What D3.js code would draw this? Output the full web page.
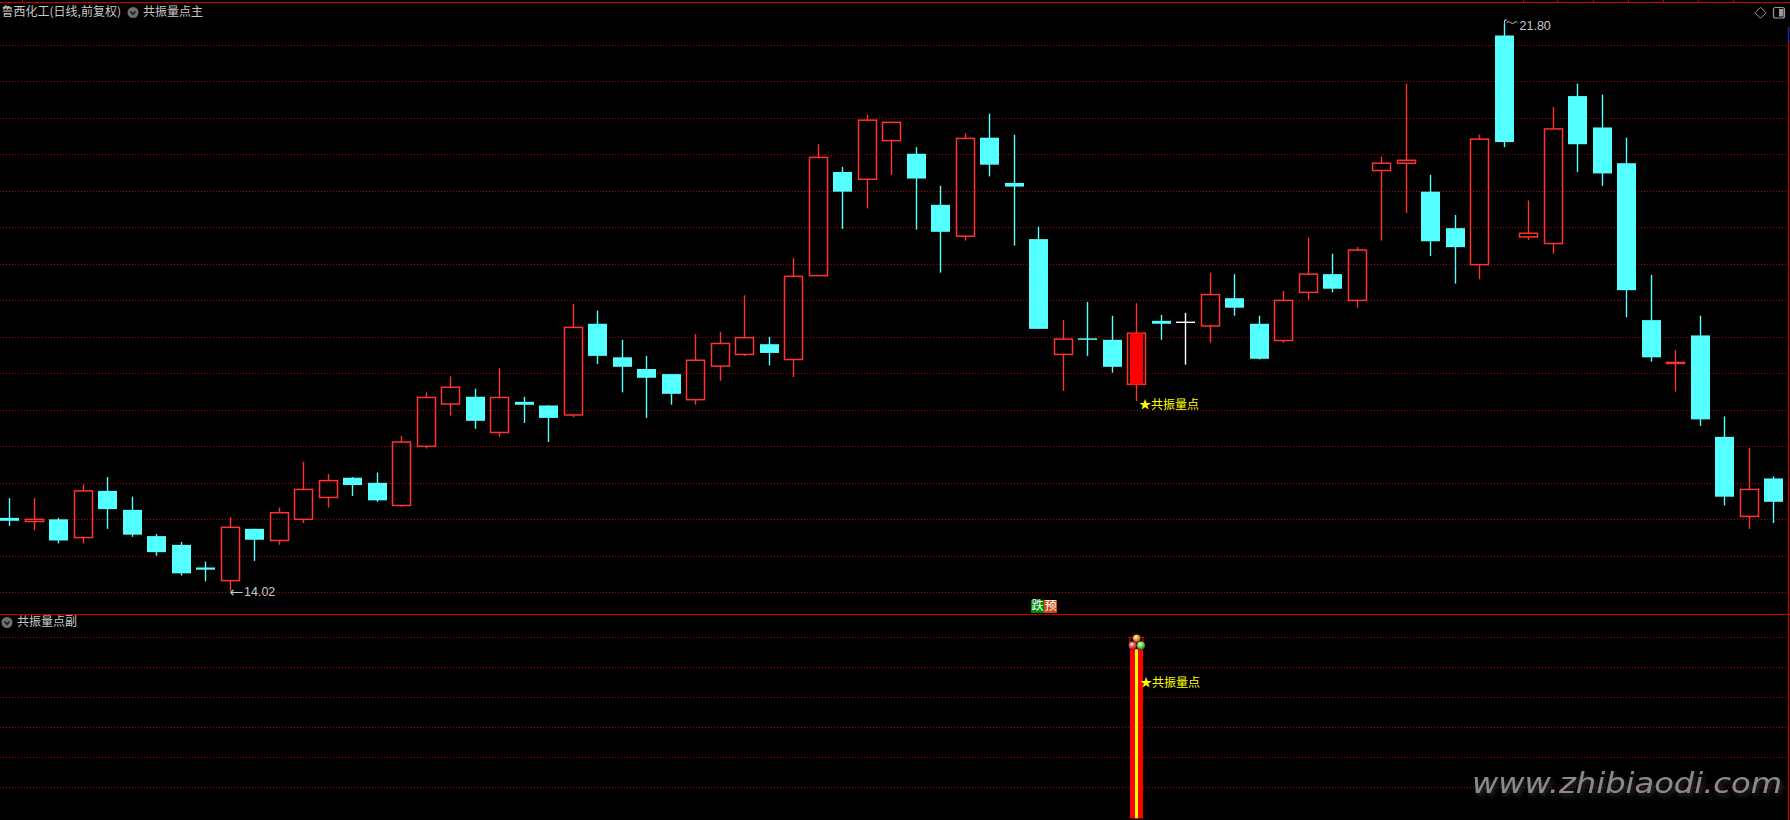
<!DOCTYPE html>
<html><head><meta charset="utf-8">
<script src="https://cdn.jsdelivr.net/npm/d3@7"></script>
<style>html,body{margin:0;padding:0;background:#000;overflow:hidden}</style>
</head><body>
<svg id="c" width="1790" height="820"></svg>
<script>
// ---- data ----
const opens  = [15.02,14.97,15.00,14.75,15.39,15.13,14.77,14.65,14.34,14.16,14.87,14.71,15.00,15.30,15.57,15.50,15.19,16.00,16.58,16.68,16.19,16.61,16.56,16.43,17.68,17.22,17.06,16.99,16.64,17.10,17.26,17.40,17.19,18.34,19.76,19.66,20.19,20.01,19.31,18.88,20.23,19.61,18.84,17.26,17.48,17.46,16.85,17.72,17.70,17.65,18.03,17.68,17.45,18.11,18.36,18.00,19.78,19.88,19.49,18.99,18.49,21.63,18.87,18.78,20.80,20.37,19.88,17.73,17.14,17.52,16.13,15.04,15.56];
const highs  = [15.29,15.29,15.02,15.48,15.58,15.31,14.80,14.69,14.42,15.03,14.87,15.16,15.79,15.62,15.58,15.64,16.14,16.74,16.96,16.79,17.07,16.68,16.56,17.95,17.86,17.46,17.24,16.99,17.54,17.57,18.07,17.50,18.58,20.14,19.83,20.54,20.44,20.10,19.57,20.29,20.56,20.27,19.01,17.73,17.98,17.79,17.96,17.80,17.83,18.38,18.36,17.79,18.13,18.86,18.64,18.73,19.97,20.97,19.72,19.17,20.27,21.80,19.37,20.65,20.97,20.82,20.23,18.35,17.32,17.79,16.41,15.98,15.59];
const lows   = [14.91,14.85,14.67,14.67,14.87,14.76,14.50,14.23,14.15,14.02,14.43,14.65,14.95,15.16,15.32,15.24,15.17,15.97,16.42,16.24,16.13,16.32,16.06,16.40,17.13,16.74,16.39,16.57,16.57,16.90,17.24,17.11,16.95,18.34,18.98,19.26,19.72,18.97,18.38,18.82,19.70,18.75,17.61,16.76,17.24,17.01,16.62,17.46,17.12,17.42,17.79,17.19,17.42,18.01,18.11,17.90,18.82,19.20,18.61,18.23,18.29,20.10,18.83,18.64,19.76,19.57,17.77,17.16,16.75,16.28,15.19,14.87,14.95];
const closes = [14.98,15.00,14.71,15.39,15.14,14.79,14.55,14.26,14.31,14.89,14.72,15.09,15.41,15.53,15.47,15.26,16.06,16.67,16.81,16.35,16.67,16.57,16.39,17.63,17.24,17.09,16.94,16.72,17.18,17.41,17.49,17.28,18.33,19.96,19.49,20.47,20.44,19.67,18.94,20.22,19.86,19.56,17.61,17.47,17.47,17.09,17.55,17.68,17.70,18.08,17.90,17.20,18.00,18.36,18.16,18.69,19.88,19.92,18.81,18.73,20.21,20.17,18.92,20.35,20.14,19.74,18.14,17.22,17.15,16.37,15.31,15.41,15.24];
const priceTicks = [14,14.5,15,15.5,16,16.5,17,17.5,18,18.5,19,19.5,20,20.5,21,21.5];
const subTicks = [1,2,3,4,5,6];
const signalBars = [{index:46, value:5.6}];   // 共振量点 sub-pane bar
const fallIndex = 42;                           // 跌预 marker
const titleMain = "鲁西化工(日线,前复权)";
const titleInd = "共振量点主";
const titleSub = "共振量点副";
const signalText = "★共振量点";

// ---- layout ----
const W = 1790, H = 820;
const svg = d3.select("#c");
svg.append("rect").attr("width",W).attr("height",H).attr("fill","#000");
const defs = svg.append("defs");

const x = d3.scaleLinear().domain([0, opens.length-1]).range([9.3, 1773.3]);
const y = d3.scaleLinear().domain([14, 21.5]).range([592.3, 45]);
const ys = d3.scaleLinear().domain([0, 6]).range([817.3, 637.3]);

const gridColor = "#b00000";
// grids
svg.append("g").selectAll("line").data(priceTicks).join("line")
  .attr("x1",0).attr("x2",1786).attr("y1",d=>Math.round(y(d))+0.5).attr("y2",d=>Math.round(y(d))+0.5)
  .attr("stroke",gridColor).attr("stroke-width",1).attr("stroke-dasharray","1 2");
svg.append("g").selectAll("line").data(subTicks).join("line")
  .attr("x1",0).attr("x2",1786).attr("y1",d=>Math.round(ys(d))+0.5).attr("y2",d=>Math.round(ys(d))+0.5)
  .attr("stroke",gridColor).attr("stroke-width",1).attr("stroke-dasharray","1 2");

// borders
svg.append("line").attr("x1",0).attr("x2",W).attr("y1",2.5).attr("y2",2.5).attr("stroke","#c80000").attr("stroke-width",1.2);
svg.append("line").attr("x1",22.5).attr("x2",22.5).attr("y1",0).attr("y2",3).attr("stroke","#c80000");
[1523,1557,1593,1628,1663,1698,1733].forEach(t=>svg.append("line").attr("x1",t+0.5).attr("x2",t+0.5).attr("y1",0).attr("y2",3).attr("stroke","#c80000"));
svg.append("line").attr("x1",0).attr("x2",W).attr("y1",614.5).attr("y2",614.5).attr("stroke","#c80000").attr("stroke-width",1.2);
svg.append("line").attr("x1",1788.5).attr("x2",1788.5).attr("y1",27).attr("y2",H).attr("stroke","#c80000").attr("stroke-width",1.2);
svg.append("line").attr("x1",1788.5).attr("x2",1788.5).attr("y1",28).attr("y2",43).attr("stroke","#1a2a9a").attr("stroke-width",1.5);

// candles
const UP="#ff3232", DOWN="#54ffff";
const g = svg.append("g");
const bw = 19;
opens.forEach((o,i)=>{
  const c = closes[i], h = highs[i], l = lows[i];
  const cx = Math.round(x(i)) + 0.5;
  if (c > o) {
    const top = y(c), bot = y(o);
    g.append("line").attr("x1",cx).attr("x2",cx).attr("y1",y(h)).attr("y2",top).attr("stroke",UP).attr("stroke-width",1.4);
    g.append("line").attr("x1",cx).attr("x2",cx).attr("y1",bot).attr("y2",y(l)).attr("stroke",UP).attr("stroke-width",1.4);
    g.append("rect").attr("x",cx-9).attr("y",top).attr("width",18).attr("height",Math.max(bot-top,1))
      .attr("fill","none").attr("stroke",UP).attr("stroke-width",1.5);
    if (signalBars.some(s=>s.index===i)) {
      g.append("rect").attr("x",cx-6.5).attr("y",top).attr("width",13).attr("height",bot-top).attr("fill","#ff0000");
    }
  } else if (c < o) {
    const top = y(o), bot = y(c);
    g.append("line").attr("x1",cx).attr("x2",cx).attr("y1",y(h)).attr("y2",y(l)).attr("stroke",DOWN).attr("stroke-width",1.4);
    g.append("rect").attr("x",cx-9.5).attr("y",top).attr("width",bw).attr("height",Math.max(bot-top,1.5)).attr("fill",DOWN);
  } else {
    g.append("line").attr("x1",cx).attr("x2",cx).attr("y1",y(h)).attr("y2",y(l)).attr("stroke","#ffffff").attr("stroke-width",1.4);
    g.append("line").attr("x1",cx-9.5).attr("x2",cx+9.5).attr("y1",y(o)).attr("y2",y(o)).attr("stroke","#ffffff").attr("stroke-width",1.4);
  }
});

// high / low labels
const hi = d3.maxIndex(highs), lo = d3.minIndex(lows);
const hx = Math.round(x(hi))+0.5, hy = y(highs[hi]);
svg.append("path").attr("d",`M${hx},${hy} L${hx},${hy-3} L${hx+2.5},${hy-3} M${hx+2},${hy-0.5} q2,-2 4,0 t4,0 t3,0`)
  .attr("fill","none").attr("stroke","#c8c8c8").attr("stroke-width",1);
svg.append("text").attr("x",hx+15).attr("y",hy+3.5).attr("dominant-baseline","middle")
  .attr("font-family","Liberation Sans, Arial, sans-serif").attr("font-size",12.5).attr("fill","#c8c8c8").text(highs[hi].toFixed(2));
const lx = Math.round(x(lo))+0.5, ly = Math.round(y(lows[lo]))+1.5;
svg.append("path").attr("d",`M${lx},${ly} L${lx+12},${ly} M${lx},${ly} l3,-2.5 M${lx},${ly} l3,2.5`)
  .attr("fill","none").attr("stroke","#c8c8c8").attr("stroke-width",1.2);
svg.append("text").attr("x",lx+13.5).attr("y",ly+0.5).attr("dominant-baseline","middle")
  .attr("font-family","Liberation Sans, Arial, sans-serif").attr("font-size",12.5).attr("fill","#c8c8c8").text(lows[lo].toFixed(2));

// signal label in main pane
const CJK = "'Noto Sans CJK SC', 'Noto Sans', sans-serif";
signalBars.forEach(s=>{
  const sx = Math.round(x(s.index));
  svg.append("text").attr("x",sx+3).attr("y",y(lows[s.index])+5).attr("dominant-baseline","middle")
    .attr("font-family",CJK).attr("font-size",12).attr("fill","#ffff00").text(signalText);
});

// 跌预 marker
{
  const fx = Math.round(x(fallIndex)) - 7;
  svg.append("rect").attr("x",fx).attr("y",600).attr("width",13).attr("height",13).attr("fill","#008a00");
  svg.append("rect").attr("x",fx+13).attr("y",600).attr("width",13).attr("height",13).attr("fill","#c84a14");
  svg.append("text").attr("x",fx+6.5).attr("y",607).attr("text-anchor","middle").attr("dominant-baseline","middle")
    .attr("font-family",CJK).attr("font-size",12).attr("fill","#ffffff").text("跌");
  svg.append("text").attr("x",fx+19.5).attr("y",607).attr("text-anchor","middle").attr("dominant-baseline","middle")
    .attr("font-family",CJK).attr("font-size",12).attr("fill","#ffffff").text("预");
}

// sub pane bar
function ball(id, c1, c2){
  const gr = defs.append("radialGradient").attr("id",id).attr("cx","40%").attr("cy","35%").attr("r","65%");
  gr.append("stop").attr("offset","0%").attr("stop-color","#ffffff");
  gr.append("stop").attr("offset","35%").attr("stop-color",c1);
  gr.append("stop").attr("offset","100%").attr("stop-color",c2);
}
ball("bGold","#e8c060","#8a6010");
ball("bRed","#f07070","#a01818");
ball("bGreen","#90f070","#2a8a18");
signalBars.forEach(s=>{
  const sx = Math.round(x(s.index));
  const top = ys(s.value), bot = ys(0)+1;
  svg.append("rect").attr("x",sx-6).attr("y",top).attr("width",13).attr("height",bot-top).attr("fill","#ff0000");
  svg.append("rect").attr("x",sx-1).attr("y",top).attr("width",3).attr("height",bot-top).attr("fill","#ffff00");
  svg.append("rect").attr("x",sx-6).attr("y",top-12).attr("width",13).attr("height",5).attr("fill","none").attr("stroke","#ff0000").attr("stroke-width",1);
  svg.append("circle").attr("cx",sx+0.7).attr("cy",top-11).attr("r",3.8).attr("fill","url(#bGold)");
  svg.append("circle").attr("cx",sx-3.3).attr("cy",top-3.8).attr("r",4).attr("fill","url(#bRed)");
  svg.append("circle").attr("cx",sx+5).attr("cy",top-3.8).attr("r",4).attr("fill","url(#bGreen)");
  svg.append("text").attr("x",sx+4).attr("y",684).attr("dominant-baseline","middle")
    .attr("font-family",CJK).attr("font-size",12).attr("fill","#ffff00").text(signalText);
});

// titles
function chev(cx, cy){
  svg.append("circle").attr("cx",cx).attr("cy",cy).attr("r",5.5).attr("fill","#6e6e6e");
  svg.append("path").attr("d",`M${cx-2.5},${cy-1} L${cx},${cy+1.8} L${cx+2.5},${cy-1}`).attr("fill","none").attr("stroke","#1a1a1a").attr("stroke-width",1.5);
}
svg.append("text").attr("x",1.5).attr("y",12.5).attr("dominant-baseline","middle")
  .attr("font-family",CJK).attr("font-size",12).attr("fill","#c8c8c8").text(titleMain);
chev(133,12.5);
svg.append("text").attr("x",143).attr("y",12.5).attr("dominant-baseline","middle")
  .attr("font-family",CJK).attr("font-size",12).attr("fill","#c8c8c8").text(titleInd);
chev(7,622.5);
svg.append("text").attr("x",17).attr("y",622.5).attr("dominant-baseline","middle")
  .attr("font-family",CJK).attr("font-size",12).attr("fill","#c8c8c8").text(titleSub);

// top-right icons
svg.append("path").attr("d","M1760.5,7.3 L1766,12.8 L1760.5,18.3 L1755,12.8 Z").attr("fill","none").attr("stroke","#9a9a9a").attr("stroke-width",1);
svg.append("rect").attr("x",1773.5).attr("y",7.5).attr("width",11).attr("height",10.5).attr("rx",2).attr("fill","none").attr("stroke","#9a9a9a").attr("stroke-width",1.2);
svg.append("rect").attr("x",1779).attr("y",9).attr("width",4.5).attr("height",7.5).attr("fill","#9a9a9a");

// watermark
const f = defs.append("filter").attr("id","sh").attr("x","-10%").attr("y","-30%").attr("width","120%").attr("height","160%");
f.append("feDropShadow").attr("dx",2).attr("dy",3).attr("stdDeviation",2.5).attr("flood-color","#303030").attr("flood-opacity",1);
svg.append("text").attr("x",1472).attr("y",793).attr("font-family","'DejaVu Sans', sans-serif").attr("font-style","italic")
  .attr("font-size",29).attr("fill","#8a8a8a").attr("textLength",310).attr("lengthAdjust","spacingAndGlyphs")
  .attr("filter","url(#sh)").text("www.zhibiaodi.com");
</script>
</body></html>
